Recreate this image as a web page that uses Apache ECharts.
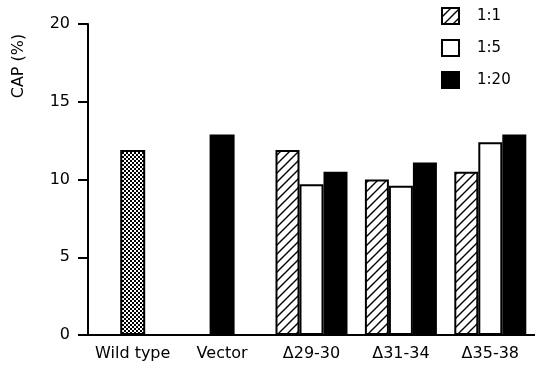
<!DOCTYPE html>
<html>
<head>
<meta charset="utf-8">
<script src="https://cdn.jsdelivr.net/npm/echarts@6/dist/echarts.min.js"></script>
<style>
html,body{margin:0;padding:0;background:#fff;}
#chart{width:535px;height:368px;}
</style>
</head>
<body>
<div id="chart"></div>
<script>
var categories = ['Wild type', 'Vector', '\u039429-30', '\u039431-34', '\u039435-38'];
var singleValues = [11.9, 12.9, null, null, null];
var ratio1to1 = [null, null, 11.9, 10.0, 10.5];
var ratio1to5 = [null, null, 9.7, 9.6, 12.4];
var ratio1to20 = [null, null, 10.5, 11.1, 12.9];
var yTicks = [0, 5, 10, 15, 20];
var seriesNames = ['1:1', '1:5', '1:20'];

function makeHatch() {
  var c = document.createElement('canvas');
  c.width = 9; c.height = 9;
  var g = c.getContext('2d');
  g.fillStyle = '#fff'; g.fillRect(0, 0, 9, 9);
  g.strokeStyle = '#000'; g.lineWidth = 1.4;
  g.beginPath();
  g.moveTo(-1, 10); g.lineTo(10, -1);
  g.moveTo(-1, 1); g.lineTo(1, -1);
  g.moveTo(8, 10); g.lineTo(10, 8);
  g.stroke();
  return c;
}
function makeStipple() {
  var c = document.createElement('canvas');
  c.width = 4; c.height = 4;
  var g = c.getContext('2d');
  g.fillStyle = '#000'; g.fillRect(0, 0, 4, 4);
  g.fillStyle = '#fff';
  g.fillRect(0, 0, 2, 2);
  g.fillRect(2, 2, 2, 2);
  return c;
}
var hatch = { image: makeHatch(), repeat: 'repeat' };
var stipple = { image: makeStipple(), repeat: 'repeat' };

var font = 'DejaVu Sans, sans-serif';
var chart = echarts.init(document.getElementById('chart'), null, { renderer: 'canvas' });

var singleData = singleValues.map(function (v, i) {
  if (v === null) return null;
  return { value: v, itemStyle: { color: i === 0 ? stipple : '#000' } };
});

var barBase = { type: 'bar', barWidth: 24, barGap: '0%', xAxisIndex: 0 };

chart.setOption({
  animation: false,
  backgroundColor: '#fff',
  grid: { left: 88, top: 24, width: 457, height: 311 },
  legend: {
    data: seriesNames,
    orient: 'vertical',
    left: 441, top: 7, padding: 0,
    itemWidth: 17, itemHeight: 16, itemGap: 14,
    icon: 'rect',
    itemStyle: { borderColor: '#000', borderWidth: 2 },
    textStyle: { fontFamily: font, fontSize: 15, color: '#000', padding: [0, 0, 0, 13] },
    selectedMode: false
  },
  graphic: [{
    type: 'text', x: 19, y: 66, rotation: Math.PI / 2,
    style: { text: 'CAP (%)', fontFamily: font, fontSize: 16, fill: '#000', align: 'center', verticalAlign: 'middle' }
  }],
  xAxis: [{
    type: 'category', data: categories,
    axisLine: { lineStyle: { color: '#000', width: 2 } },
    axisTick: { show: false },
    axisLabel: { color: '#000', fontFamily: font, fontSize: 16, margin: 11, interval: 0 }
  }, {
    type: 'category', data: categories, show: false
  }],
  yAxis: {
    type: 'value', min: yTicks[0], max: yTicks[yTicks.length - 1], interval: 5,
    splitLine: { show: false },
    axisLine: { show: true, lineStyle: { color: '#000', width: 2 } },
    axisTick: { show: true, length: 10, lineStyle: { color: '#000', width: 2 } },
    axisLabel: { color: '#000', fontFamily: font, fontSize: 16, margin: 18 }
  },
  series: [
    { type: 'bar', name: 'single', xAxisIndex: 1, barWidth: 25, data: singleData,
      itemStyle: { borderColor: '#000', borderWidth: 2 } },
    Object.assign({}, barBase, { name: seriesNames[0], data: ratio1to1, itemStyle: { color: hatch, borderColor: '#000', borderWidth: 2 } }),
    Object.assign({}, barBase, { name: seriesNames[1], data: ratio1to5, itemStyle: { color: '#fff', borderColor: '#000', borderWidth: 2 } }),
    Object.assign({}, barBase, { name: seriesNames[2], data: ratio1to20, itemStyle: { color: '#000', borderColor: '#000', borderWidth: 2 } })
  ]
});
</script>
</body>
</html>
